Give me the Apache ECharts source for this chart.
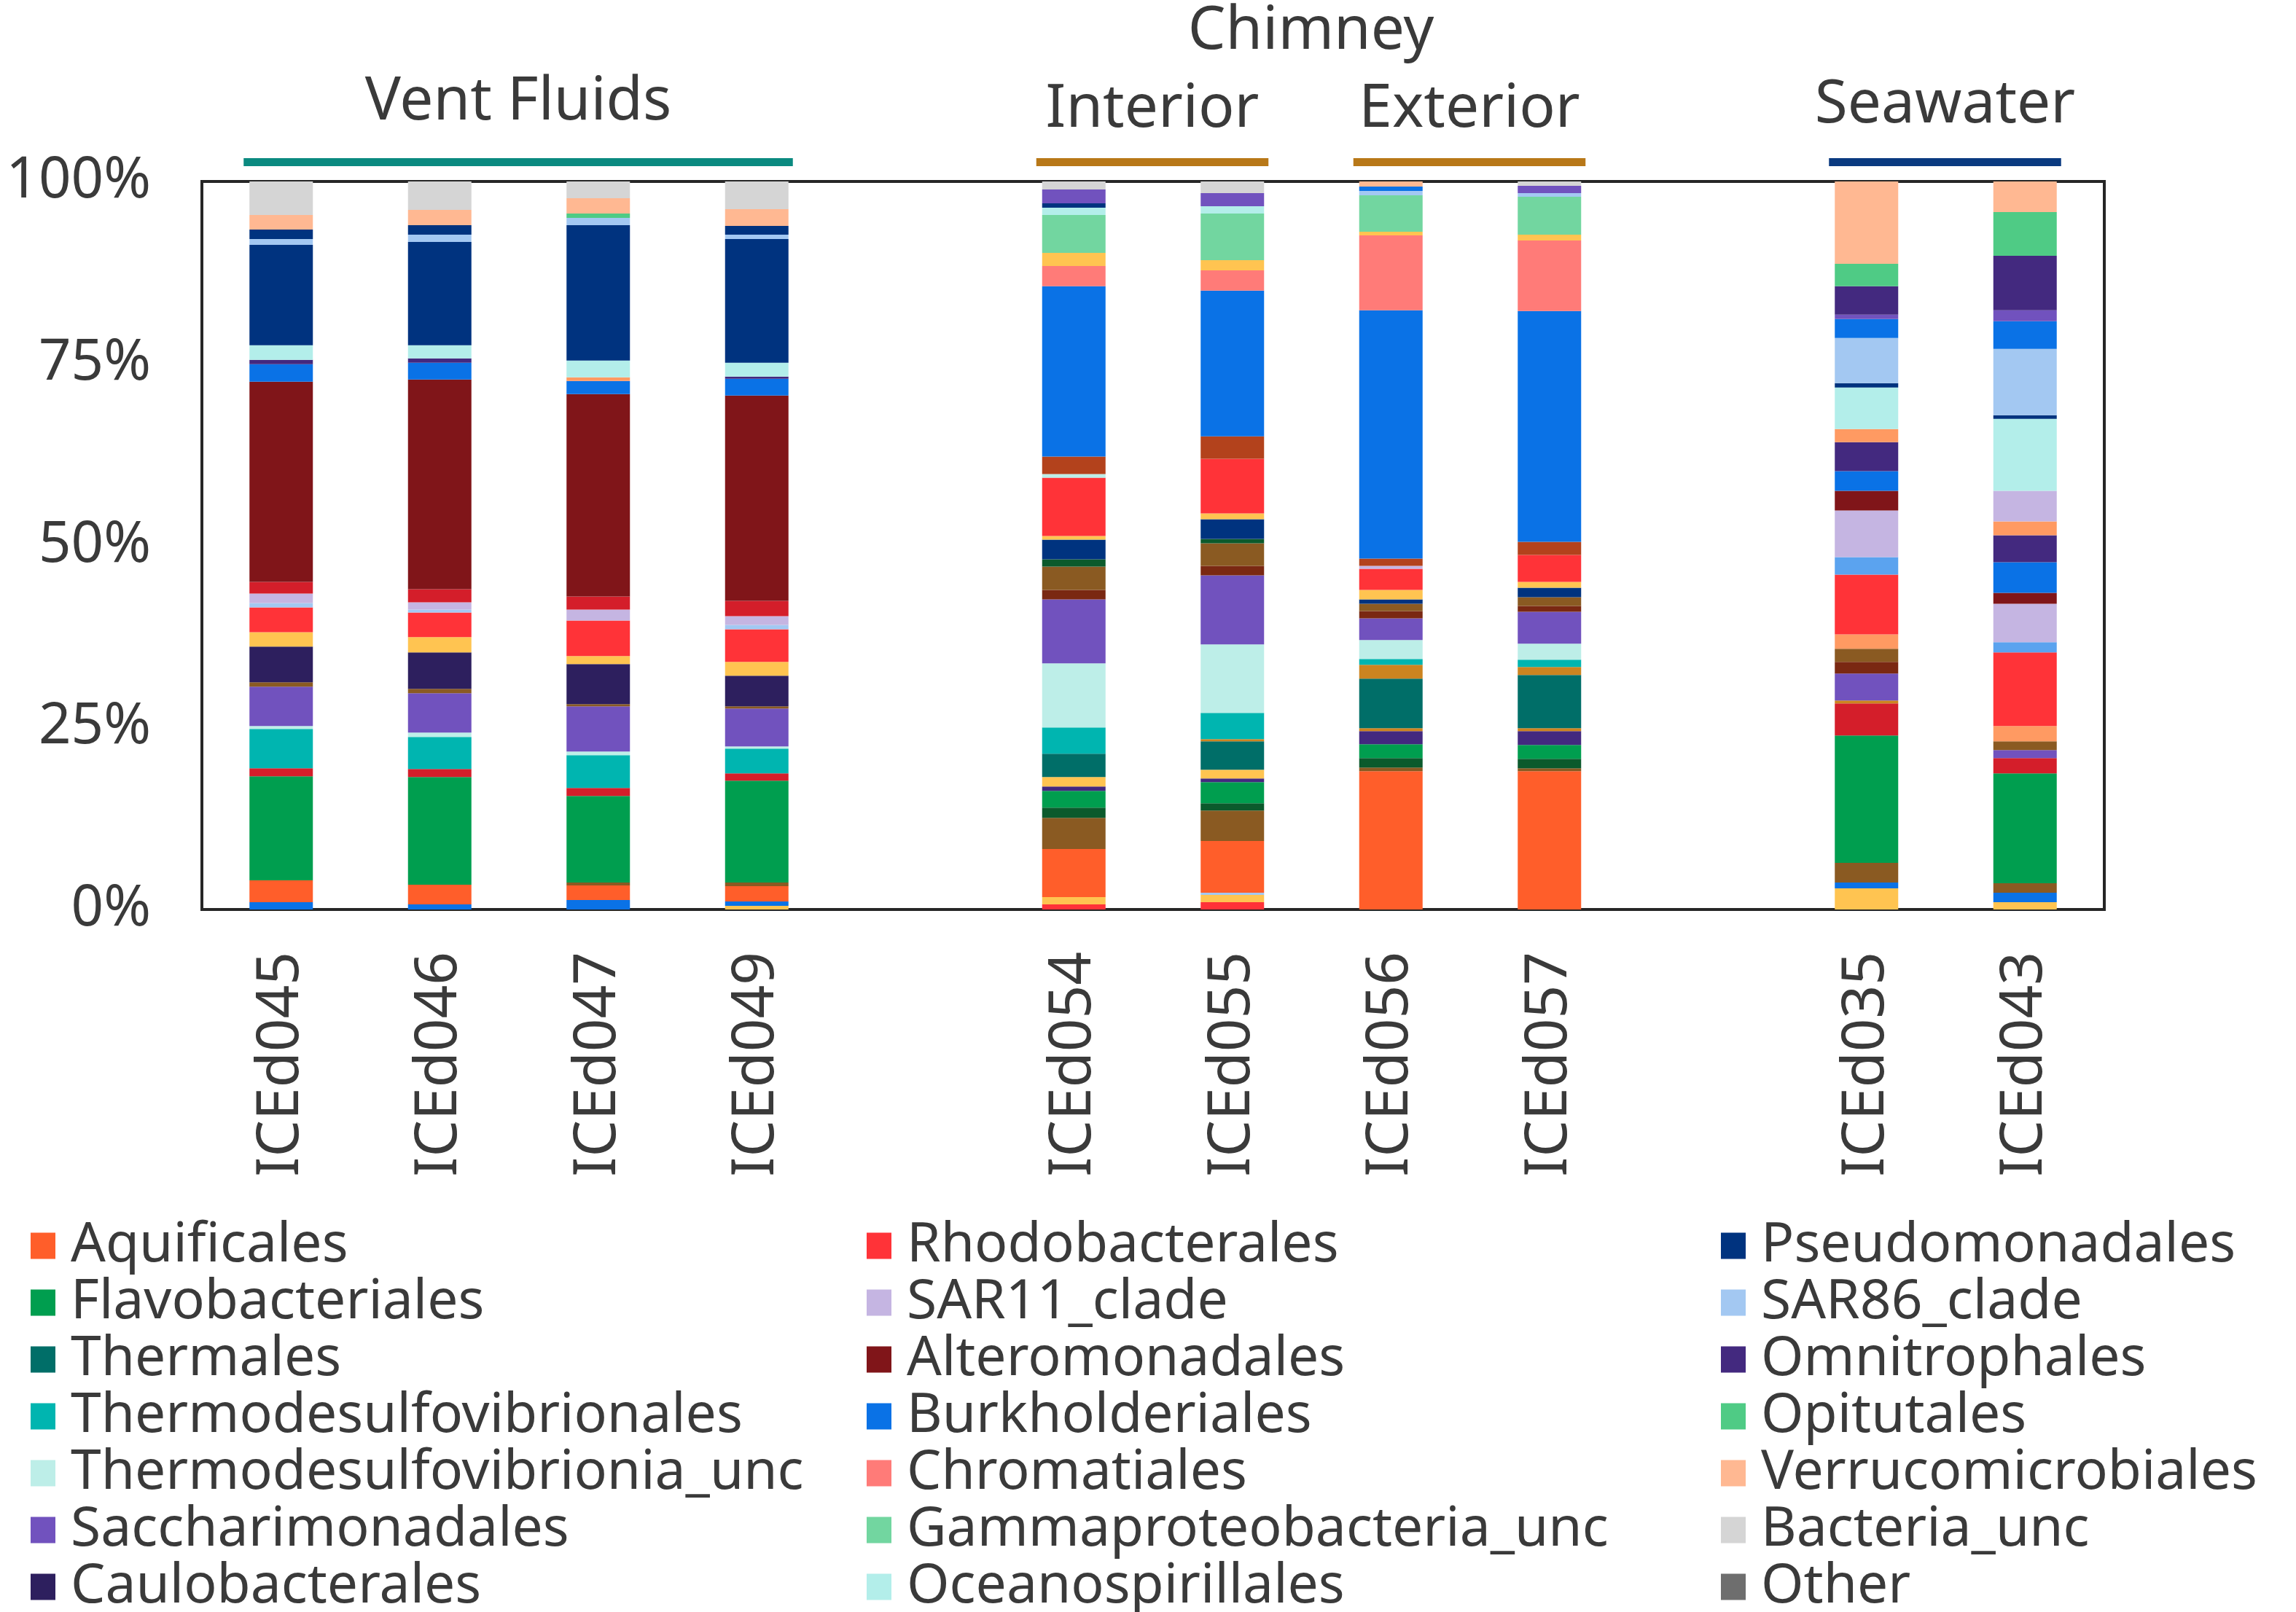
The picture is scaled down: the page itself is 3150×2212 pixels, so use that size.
<!DOCTYPE html>
<html>
<head>
<meta charset="utf-8">
<script src="https://cdn.jsdelivr.net/npm/echarts@6/dist/echarts.min.js"></script>
<style>html,body{margin:0;padding:0;background:#fff}#c{width:3150px;height:2212px}</style>
</head>
<body>
<div id="c"></div>
<script>
// ---------- DATA ----------
const categories = ['ICEd045','ICEd046','ICEd047','ICEd049',' ','ICEd054','ICEd055','ICEd056','ICEd057','  ','ICEd035','ICEd043'];
const yTicks = [0, 25, 50, 75, 100];

const legendCol1 = ['Aquificales','Flavobacteriales','Thermales','Thermodesulfovibrionales','Thermodesulfovibrionia_unc','Saccharimonadales','Caulobacterales'];
const legendCol2 = ['Rhodobacterales','SAR11_clade','Alteromonadales','Burkholderiales','Chromatiales','Gammaproteobacteria_unc','Oceanospirillales'];
const legendCol3 = ['Pseudomonadales','SAR86_clade','Omnitrophales','Opitutales','Verrucomicrobiales','Bacteria_unc','Other'];

// segments bottom -> top, relative abundance (%)
const ICEd045 = [["Burkholderiales",1.0],["Aquificales",3.0],["Flavobacteriales",14.3],["crim",1.1],["Thermodesulfovibrionales",5.4],["Thermodesulfovibrionia_unc",0.4],["Saccharimonadales",5.4],["brn",0.6],["Caulobacterales",4.9],["yel",2.0],["Rhodobacterales",3.4],["SAR86_clade",0.6],["SAR11_clade",1.3],["crim",1.6],["Alteromonadales",27.5],["Burkholderiales",2.4],["Omnitrophales",0.6],["Oceanospirillales",2.0],["Pseudomonadales",13.8],["SAR86_clade",0.8],["Pseudomonadales",1.3],["Verrucomicrobiales",2.0],["Bacteria_unc",4.6]];
const ICEd046 = [["Burkholderiales",0.7],["Aquificales",2.7],["Flavobacteriales",14.8],["crim",1.1],["Thermodesulfovibrionales",4.4],["Thermodesulfovibrionia_unc",0.6],["Saccharimonadales",5.4],["brn",0.6],["Caulobacterales",5.0],["yel",2.1],["Rhodobacterales",3.4],["SAR86_clade",0.4],["SAR11_clade",1.0],["crim",1.8],["Alteromonadales",28.8],["Burkholderiales",2.3],["Omnitrophales",0.6],["Oceanospirillales",1.8],["Pseudomonadales",14.2],["SAR86_clade",1.0],["Pseudomonadales",1.3],["Verrucomicrobiales",2.1],["Bacteria_unc",3.9]];
const ICEd047 = [["Burkholderiales",1.3],["Aquificales",2.0],["brn",0.4],["Flavobacteriales",11.9],["crim",1.1],["Thermodesulfovibrionales",4.5],["Thermodesulfovibrionia_unc",0.5],["Saccharimonadales",6.2],["brn",0.3],["Caulobacterales",5.5],["yel",1.1],["Rhodobacterales",4.9],["SAR11_clade",1.5],["crim",1.8],["Alteromonadales",27.8],["Burkholderiales",1.8],["salm",0.5],["Oceanospirillales",2.3],["Pseudomonadales",18.6],["SAR86_clade",1.0],["Opitutales",0.6],["Verrucomicrobiales",2.1],["Bacteria_unc",2.3]];
const ICEd049 = [["yel",0.5],["Burkholderiales",0.6],["Aquificales",2.1],["brn",0.5],["Flavobacteriales",14.0],["crim",1.0],["Thermodesulfovibrionales",3.4],["Thermodesulfovibrionia_unc",0.3],["Saccharimonadales",5.2],["brn",0.3],["Caulobacterales",4.2],["yel",1.9],["Rhodobacterales",4.5],["SAR86_clade",0.6],["SAR11_clade",1.2],["crim",2.1],["Alteromonadales",28.2],["Burkholderiales",2.3],["Omnitrophales",0.3],["Oceanospirillales",1.9],["Pseudomonadales",17.0],["SAR86_clade",0.6],["Pseudomonadales",1.2],["Verrucomicrobiales",2.3],["Bacteria_unc",3.8]];
const ICEd054 = [["Rhodobacterales",0.7],["yel",1.0],["Aquificales",6.6],["brn",4.3],["dgrn",1.4],["Flavobacteriales",2.3],["Omnitrophales",0.6],["yel",1.3],["Thermales",3.2],["Thermodesulfovibrionales",3.6],["Thermodesulfovibrionia_unc",8.8],["Saccharimonadales",8.8],["dbrred",1.3],["brn",3.2],["dgrn",1.0],["Pseudomonadales",2.7],["yel",0.5],["Rhodobacterales",8.0],["Thermodesulfovibrionia_unc",0.5],["brred",2.4],["Burkholderiales",23.4],["Chromatiales",2.8],["yel",1.8],["Gammaproteobacteria_unc",5.2],["Oceanospirillales",1.0],["Pseudomonadales",0.6],["Saccharimonadales",1.9],["Bacteria_unc",1.1]];
const ICEd055 = [["Rhodobacterales",1.0],["yel",1.0],["SAR86_clade",0.3],["Aquificales",7.1],["brn",4.2],["dgrn",1.0],["Flavobacteriales",2.9],["Omnitrophales",0.5],["yel",1.2],["Thermales",3.9],["obrn",0.3],["Thermodesulfovibrionales",3.6],["Thermodesulfovibrionia_unc",9.4],["Saccharimonadales",9.5],["dbrred",1.3],["brn",3.1],["dgrn",0.6],["Pseudomonadales",2.7],["yel",0.8],["Rhodobacterales",7.5],["brred",3.1],["Burkholderiales",20.0],["Chromatiales",2.8],["yel",1.4],["Gammaproteobacteria_unc",6.4],["Oceanospirillales",1.0],["Saccharimonadales",1.8],["Bacteria_unc",1.6]];
const ICEd056 = [["Aquificales",19.0],["brn",0.5],["dgrn",1.3],["Flavobacteriales",1.9],["Omnitrophales",1.8],["obrn",0.4],["Thermales",6.8],["obrn",1.9],["Thermodesulfovibrionales",0.8],["Thermodesulfovibrionia_unc",2.6],["Saccharimonadales",3.0],["dbrred",1.0],["brn",1.0],["Pseudomonadales",0.6],["yel",1.3],["Rhodobacterales",2.9],["SAR11_clade",0.4],["brred",1.0],["Burkholderiales",34.1],["Chromatiales",10.3],["yel",0.5],["Gammaproteobacteria_unc",5.0],["SAR86_clade",0.6],["Burkholderiales",0.6],["Verrucomicrobiales",0.7]];
const ICEd057 = [["Aquificales",19.0],["brn",0.4],["dgrn",1.3],["Flavobacteriales",1.9],["Omnitrophales",1.9],["obrn",0.4],["Thermales",7.3],["obrn",1.1],["Thermodesulfovibrionales",1.0],["Thermodesulfovibrionia_unc",2.2],["Saccharimonadales",4.4],["dbrred",0.8],["brn",1.2],["Pseudomonadales",1.3],["yel",0.8],["Rhodobacterales",3.7],["brred",1.8],["Burkholderiales",31.7],["Chromatiales",9.7],["yel",0.8],["Gammaproteobacteria_unc",5.2],["SAR86_clade",0.5],["Saccharimonadales",1.0],["Bacteria_unc",0.6]];
const ICEd035 = [["yel",2.9],["Burkholderiales",0.8],["brn",2.7],["Flavobacteriales",17.5],["crim",4.4],["obrn",0.4],["Saccharimonadales",3.7],["dbrred",1.6],["brn",1.8],["salm",2.0],["Rhodobacterales",8.2],["lblue",2.4],["SAR11_clade",6.4],["Alteromonadales",2.7],["Burkholderiales",2.7],["Omnitrophales",4.0],["salm",1.8],["Oceanospirillales",5.7],["Pseudomonadales",0.6],["SAR86_clade",6.2],["Burkholderiales",2.6],["Saccharimonadales",0.6],["Omnitrophales",3.9],["Opitutales",3.1],["Verrucomicrobiales",11.3]];
const ICEd043 = [["yel",1.0],["Burkholderiales",1.3],["brn",1.3],["Flavobacteriales",15.1],["crim",2.1],["Saccharimonadales",1.1],["brn",1.2],["salm",2.1],["Rhodobacterales",10.1],["lblue",1.4],["SAR11_clade",5.3],["Alteromonadales",1.5],["Burkholderiales",4.2],["Omnitrophales",3.7],["salm",1.9],["SAR11_clade",4.2],["Oceanospirillales",9.9],["Pseudomonadales",0.5],["SAR86_clade",9.1],["Burkholderiales",3.8],["Saccharimonadales",1.5],["Omnitrophales",7.5],["Opitutales",6.0],["Verrucomicrobiales",4.2]];

const sampleNames = ['ICEd045','ICEd046','ICEd047','ICEd049','ICEd054','ICEd055','ICEd056','ICEd057','ICEd035','ICEd043'];
const sampleData  = [ICEd045, ICEd046, ICEd047, ICEd049, ICEd054, ICEd055, ICEd056, ICEd057, ICEd035, ICEd043];

const groupLabels = ['Vent Fluids','Interior','Exterior','Seawater'];
const groupFirst  = ['ICEd045','ICEd054','ICEd056','ICEd035'];
const groupLast   = ['ICEd049','ICEd055','ICEd057','ICEd043'];
const superLabel  = 'Chimney';

// ---------- STYLE ----------
const colors = {
  Aquificales:'#FF5E2A', Flavobacteriales:'#009E4F', Thermales:'#006E68',
  Thermodesulfovibrionales:'#00B5B0', Thermodesulfovibrionia_unc:'#BDEEE8',
  Saccharimonadales:'#7152BE', Caulobacterales:'#2D1F5E',
  Rhodobacterales:'#FF3338', SAR11_clade:'#C5B5E2', Alteromonadales:'#801519',
  Burkholderiales:'#0A72E6', Chromatiales:'#FF7B78', Gammaproteobacteria_unc:'#72D6A0',
  Oceanospirillales:'#B3EEEA', Pseudomonadales:'#00337F', SAR86_clade:'#A3C8F2',
  Omnitrophales:'#43297F', Opitutales:'#4FCB85', Verrucomicrobiales:'#FFB892',
  Bacteria_unc:'#D5D5D5', Other:'#6E6E6E',
  yel:'#FFC451', brn:'#8A5A22', dgrn:'#0B5A2C', crim:'#D41E2A', brred:'#B3421C',
  dbrred:'#7A2812', obrn:'#CC8420', salm:'#FF9A62', lblue:'#5BA3EF'
};
const groupColors = ['#0B8A80','#B87818','#B87818','#0A3A80'];
const FONT = '"Noto Sans", "DejaVu Sans", sans-serif';
const TXT = '#3a3a3a';
const BAR_W = 87;

// ---------- BUILD ----------
const series = [];
sampleNames.forEach((s, k) => {
  const idx = categories.indexOf(s);
  sampleData[k].forEach(([taxon, v]) => {
    series.push({
      type:'bar', name: taxon, stack:'total', barWidth: BAR_W,
      data: categories.map((c, i) => i === idx ? v : 0),
      itemStyle:{color: colors[taxon]}, emphasis:{disabled:true}
    });
  });
});
series.push({type:'bar', name:'Other', stack:'total', barWidth: BAR_W,
  data: categories.map(() => 0), itemStyle:{color: colors.Other}});

// one legend component per entry, placed on a 3 x 7 grid
const colLeft = [42, 1189, 2361];
const legends = [];
[legendCol1, legendCol2, legendCol3].forEach((col, c) => {
  col.forEach((name, r) => {
    legends.push({
      data:[{name:name, icon:'rect'}],
      orient:'horizontal', left: colLeft[c], top: 1672 + r * 78, padding:0,
      itemWidth: 34, itemHeight: 36, selectedMode:false,
      textStyle:{fontFamily:FONT, fontSize:75, color:TXT, lineHeight:64, padding:[0,0,0,16]}
    });
  });
});

const chart = echarts.init(document.getElementById('c'), null, {renderer:'canvas'});
chart.setOption({
  animation:false,
  backgroundColor:'#fff',
  grid:{left:277, right:263, top:249, bottom:964, show:true, borderColor:'#262626', borderWidth:4, backgroundColor:'transparent'},
  xAxis:{
    type:'category', data: categories,
    axisLine:{show:false}, axisTick:{show:false},
    axisLabel:{rotate:90, interval:0, margin:58, fontFamily:FONT, fontSize:80, color:TXT}
  },
  yAxis:{
    type:'value', min:0, max:100, interval:25,
    axisLine:{show:false}, axisTick:{show:false}, splitLine:{show:false},
    axisLabel:{margin:70, fontFamily:FONT, fontSize:78, color:TXT,
      formatter: v => yTicks.includes(v) ? v + '%' : ''}
  },
  legend: legends,
  series: series
});

// group headers positioned from the category axis
const px = n => chart.convertToPixel({xAxisIndex:0}, n);
const textY = [141, 151, 151, 145];
const graphics = [];
const lineSpans = [];
groupLabels.forEach((lab, g) => {
  const x0 = px(groupFirst[g]) - BAR_W/2 - 8;
  const x1 = px(groupLast[g]) + BAR_W/2 + 6;
  lineSpans.push([x0, x1]);
  graphics.push({type:'rect', shape:{x:x0, y:217, width:x1-x0, height:11}, style:{fill:groupColors[g]}});
  graphics.push({type:'text', x:(x0+x1)/2, y:textY[g], style:{text:lab, fontFamily:FONT, fontSize:82, fill:TXT, textAlign:'center', textVerticalAlign:'middle'}});
});
graphics.push({type:'text', x:(lineSpans[1][0]+lineSpans[2][1])/2, y:44,
  style:{text:superLabel, fontFamily:FONT, fontSize:82, fill:TXT, textAlign:'center', textVerticalAlign:'middle'}});
chart.setOption({graphic: graphics});
</script>
</body>
</html>
